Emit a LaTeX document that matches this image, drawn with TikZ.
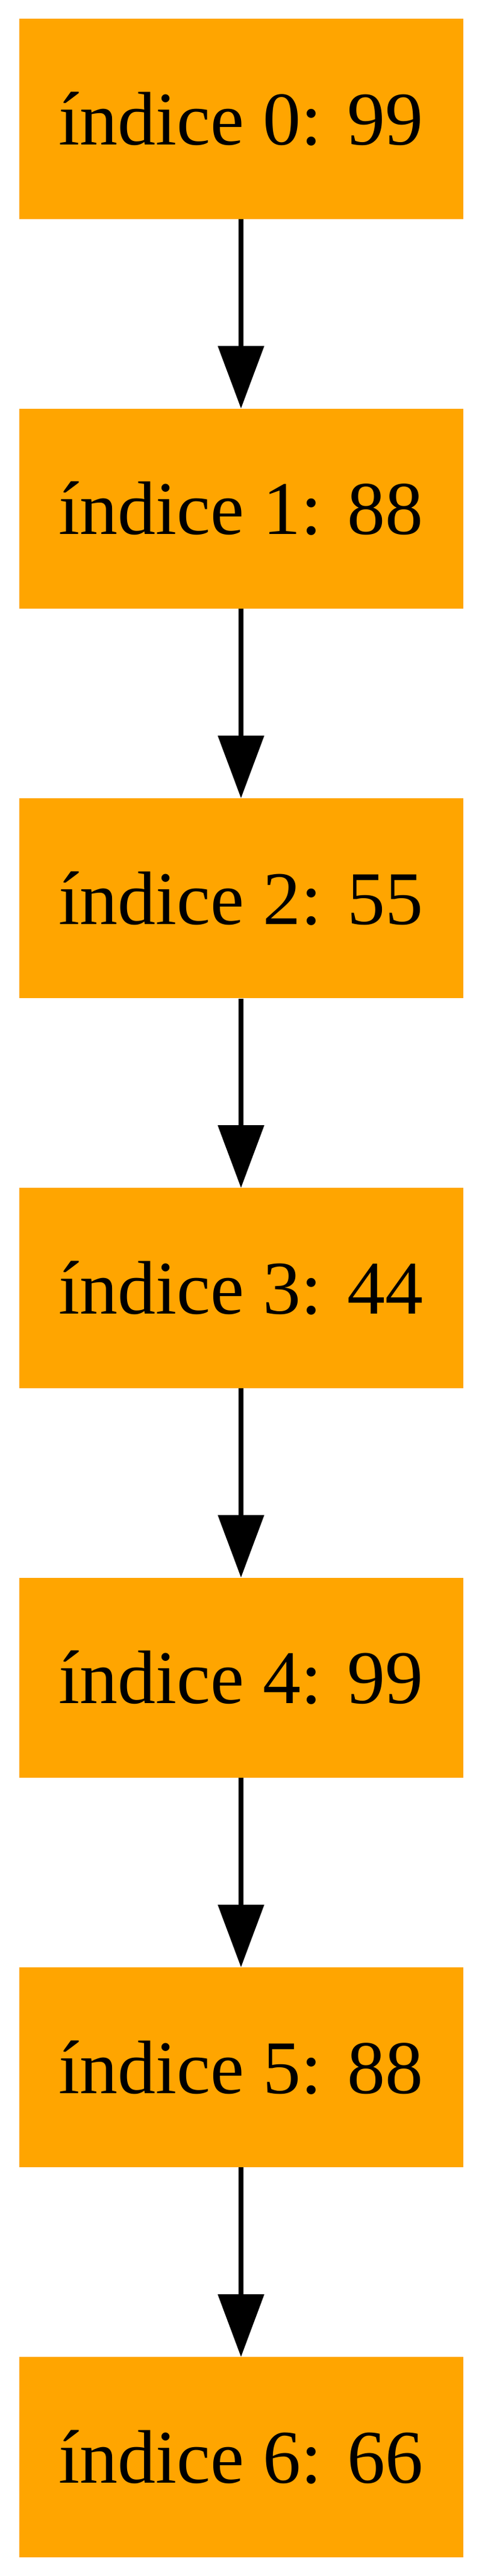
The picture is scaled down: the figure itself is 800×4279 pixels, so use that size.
\documentclass[tikz,border=0pt]{standalone}
\usepackage{fontspec}
\setmainfont{Liberation Serif}
\usetikzlibrary{arrows.meta}
\definecolor{gvorange}{HTML}{FFA500}
\begin{document}
\begin{tikzpicture}[x=1pt,y=1pt,
  cell/.style={fill=gvorange,draw=none,inner sep=0pt,minimum width=737pt,minimum height=332.2pt,
    font=\fontsize{126}{150}\selectfont,text=black},
  link/.style={line width=8.7pt,draw=black,-{Triangle[length=104pt,width=75pt]}}]
\useasboundingbox (0,0) rectangle (800,-4279);
\foreach \i/\v in {0/99,1/88,2/55,3/44,4/99,5/88,6/66}{
  \node[cell] (n\i) at (400,{-197.6-\i*647.3}) {índice \i: \v};
}
\foreach \a/\b in {0/1,1/2,2/3,3/4,4/5,5/6}{
  \draw[link] (n\a.south) -- (n\b.north);
}
\end{tikzpicture}
\end{document}
